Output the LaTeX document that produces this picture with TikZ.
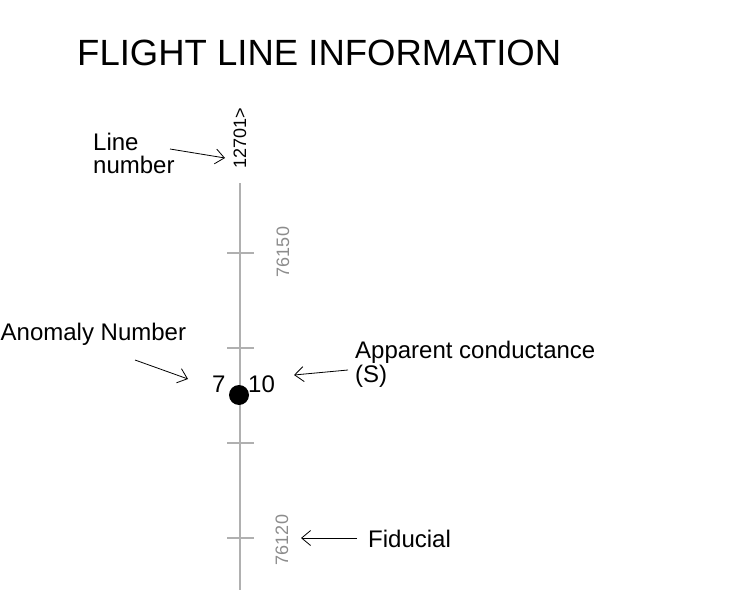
\documentclass[tikz,border=0pt]{standalone}
\usepackage{fontspec}
\setmainfont{Liberation Sans}
\usetikzlibrary{arrows.meta}
\definecolor{axisgray}{HTML}{B0B0B0}
\definecolor{numgray}{HTML}{8C8C8C}
\begin{document}
\begin{tikzpicture}[x=1pt,y=-1pt,
  lbl/.style={font=\fontsize{24}{24}\selectfont, inner sep=0pt, anchor=base west, align=left},
  fidnum/.style={font=\fontsize{18}{18}\selectfont, inner sep=0pt, rotate=90, text=numgray},
  tick/.style={draw=axisgray, line width=1.2pt},
  pointer/.style={draw=black, line width=0.8pt, -{Straight Barb[length=9pt,width=15pt]}}]
\useasboundingbox (0,0) rectangle (731,591);
% title
\node[inner sep=0pt, anchor=base west, font=\fontsize{36.5}{36.5}\selectfont] (title) at (77,66) {FLIGHT LINE INFORMATION};
% flight line
\coordinate (ltop) at (240,183);
\coordinate (lbot) at (240,590);
\draw[tick] (ltop) -- (lbot);
\foreach \y [count=\i] in {253,348,443,538} {
  \coordinate (tl\i) at (227,\y);
  \coordinate (tr\i) at (254,\y);
  \draw[tick] (tl\i) -- (tr\i);
}
% line number
\node[inner sep=0pt, rotate=90, font=\fontsize{18}{18}\selectfont] (lnum) at (240,138) {12701>};
\node[lbl] (linelbl) at (93,174) {Line\\[0pt]number};
\coordinate (lnstart) at (170,149);
\coordinate (lnend) at (225,158);
\draw[pointer] (lnstart) -- (lnend);
% fiducial numbers
\node[fidnum] (f1) at (283,252) {76150};
\node[fidnum] (f2) at (282,540) {76120};
% anomaly
\node[circle, fill=black, inner sep=0pt, minimum size=20pt] (dot) at (239,395) {};
\node[lbl] (seven) at (212,392) {7};
\node[lbl] (ten) at (248,392) {10};
\node[lbl] (anomlbl) at (0.5,340) {Anomaly Number};
\coordinate (anstart) at (135,360);
\coordinate (anend) at (188,379);
\draw[pointer] (anstart) -- (anend);
% apparent conductance
\node[lbl] (condlbl) at (355,382) {Apparent conductance\\[0pt](S)};
\coordinate (cstart) at (348,370);
\coordinate (cend) at (294,375);
\draw[pointer] (cstart) -- (cend);
% fiducial
\node[lbl] (fidlbl) at (368,547) {Fiducial};
\coordinate (fstart) at (357,538);
\coordinate (fend) at (301,538);
\draw[pointer] (fstart) -- (fend);
\end{tikzpicture}
\end{document}
